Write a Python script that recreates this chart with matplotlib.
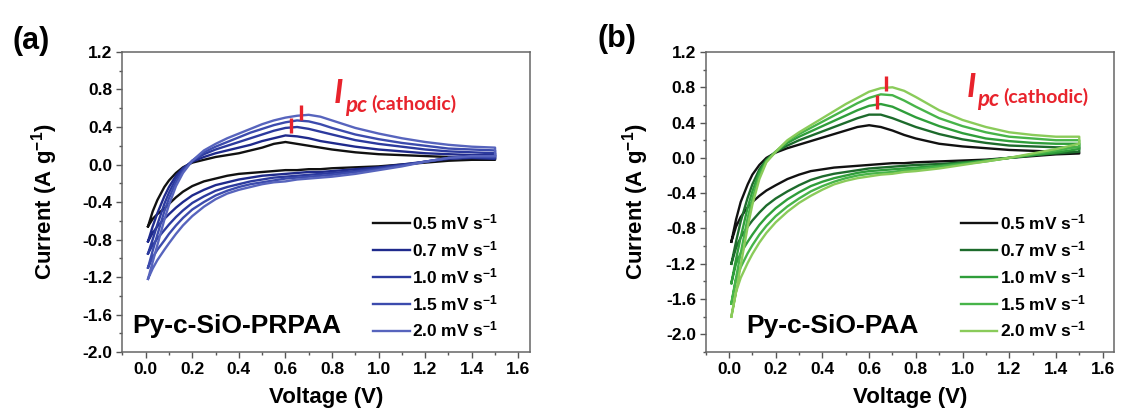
import matplotlib
matplotlib.use('Agg')
import matplotlib.pyplot as plt
from matplotlib.ticker import MultipleLocator, FormatStrFormatter

plt.rcParams['font.family'] = ['Liberation Sans', 'DejaVu Sans']
plt.rcParams['font.weight'] = 'bold'
plt.rcParams['axes.unicode_minus'] = False
plt.rcParams['mathtext.fontset'] = 'custom'
plt.rcParams['mathtext.rm'] = 'Liberation Sans:bold'
plt.rcParams['mathtext.it'] = 'Liberation Sans:italic:bold'
plt.rcParams['mathtext.bf'] = 'Liberation Sans:bold'

# ---------------- data ----------------
rates = ['0.5', '0.7', '1.0', '1.5', '2.0']
voltage = [0.01, 0.03, 0.05, 0.08, 0.10, 0.13, 0.16, 0.20, 0.25, 0.30, 0.35,
           0.40, 0.45, 0.50, 0.55, 0.60, 0.65, 0.70, 0.75, 0.80, 0.90, 1.00,
           1.10, 1.20, 1.30, 1.40, 1.50]

# Panel (a): Py-c-SiO-PRPAA  (anodic = upper branch, cathodic = lower branch)
a_up_05 = [-0.66, -0.50, -0.38, -0.24, -0.17, -0.09, -0.03, 0.02, 0.05, 0.08, 0.10,
           0.12, 0.15, 0.18, 0.22, 0.24, 0.22, 0.20, 0.18, 0.16, 0.13, 0.11,
           0.10, 0.09, 0.08, 0.07, 0.07]
a_dn_05 = [-0.66, -0.58, -0.53, -0.47, -0.42, -0.35, -0.29, -0.23, -0.18, -0.15, -0.12,
           -0.10, -0.09, -0.08, -0.07, -0.06, -0.06, -0.05, -0.05, -0.04, -0.03, -0.02,
           0.00, 0.02, 0.04, 0.05, 0.05]
a_up_07 = [-0.82, -0.66, -0.52, -0.34, -0.24, -0.12, -0.04, 0.03, 0.08, 0.12, 0.15,
           0.18, 0.21, 0.25, 0.28, 0.31, 0.30, 0.28, 0.25, 0.23, 0.19, 0.16,
           0.14, 0.12, 0.11, 0.10, 0.10]
a_dn_07 = [-0.82, -0.73, -0.66, -0.58, -0.53, -0.46, -0.40, -0.33, -0.27, -0.22, -0.19,
           -0.16, -0.14, -0.12, -0.11, -0.10, -0.09, -0.08, -0.08, -0.07, -0.05, -0.03,
           0.00, 0.03, 0.06, 0.07, 0.06]
a_up_10 = [-0.95, -0.80, -0.64, -0.42, -0.30, -0.15, -0.05, 0.04, 0.11, 0.16, 0.20,
           0.24, 0.28, 0.32, 0.36, 0.39, 0.40, 0.38, 0.35, 0.32, 0.26, 0.22,
           0.19, 0.16, 0.14, 0.13, 0.12]
a_dn_10 = [-0.95, -0.86, -0.79, -0.70, -0.64, -0.56, -0.49, -0.41, -0.34, -0.28, -0.24,
           -0.21, -0.18, -0.16, -0.14, -0.13, -0.12, -0.11, -0.10, -0.09, -0.07, -0.04,
           -0.01, 0.03, 0.07, 0.08, 0.07]
a_up_15 = [-1.10, -0.92, -0.75, -0.50, -0.36, -0.19, -0.07, 0.04, 0.13, 0.19, 0.24,
           0.29, 0.34, 0.38, 0.42, 0.45, 0.47, 0.46, 0.43, 0.39, 0.32, 0.27,
           0.23, 0.20, 0.17, 0.16, 0.15]
a_dn_15 = [-1.10, -0.99, -0.91, -0.81, -0.74, -0.65, -0.57, -0.48, -0.40, -0.33, -0.28,
           -0.24, -0.21, -0.19, -0.17, -0.15, -0.14, -0.13, -0.12, -0.11, -0.08, -0.05,
           -0.01, 0.03, 0.07, 0.08, 0.08]
a_up_20 = [-1.22, -1.04, -0.86, -0.59, -0.43, -0.23, -0.09, 0.04, 0.15, 0.22, 0.28,
           0.33, 0.38, 0.43, 0.47, 0.50, 0.52, 0.53, 0.51, 0.47, 0.39, 0.33,
           0.28, 0.24, 0.21, 0.19, 0.18]
a_dn_20 = [-1.22, -1.11, -1.02, -0.91, -0.84, -0.74, -0.65, -0.55, -0.45, -0.37, -0.31,
           -0.27, -0.24, -0.21, -0.19, -0.18, -0.16, -0.15, -0.14, -0.13, -0.10, -0.06,
           -0.02, 0.03, 0.07, 0.09, 0.09]

# Panel (b): Py-c-SiO-PAA
b_up_05 = [-0.95, -0.70, -0.50, -0.30, -0.19, -0.08, 0.00, 0.06, 0.11, 0.15, 0.19,
           0.23, 0.27, 0.31, 0.35, 0.37, 0.35, 0.31, 0.26, 0.22, 0.16, 0.13,
           0.11, 0.09, 0.08, 0.07, 0.06]
b_dn_05 = [-0.95, -0.78, -0.67, -0.56, -0.50, -0.43, -0.37, -0.31, -0.24, -0.19, -0.15,
           -0.13, -0.11, -0.10, -0.09, -0.08, -0.07, -0.06, -0.06, -0.05, -0.04, -0.03,
           -0.02, 0.00, 0.02, 0.04, 0.05]
b_up_07 = [-1.20, -0.95, -0.72, -0.45, -0.30, -0.13, -0.02, 0.07, 0.14, 0.20, 0.25,
           0.30, 0.35, 0.40, 0.45, 0.49, 0.49, 0.45, 0.40, 0.35, 0.27, 0.21,
           0.17, 0.14, 0.13, 0.12, 0.12]
b_dn_07 = [-1.20, -1.02, -0.90, -0.78, -0.71, -0.62, -0.54, -0.46, -0.38, -0.31, -0.25,
           -0.21, -0.18, -0.16, -0.14, -0.12, -0.11, -0.10, -0.09, -0.08, -0.07, -0.05,
           -0.03, 0.00, 0.03, 0.05, 0.07]
b_up_10 = [-1.42, -1.15, -0.90, -0.56, -0.38, -0.16, -0.03, 0.07, 0.17, 0.24, 0.30,
           0.36, 0.42, 0.48, 0.54, 0.59, 0.61, 0.58, 0.52, 0.46, 0.36, 0.28,
           0.22, 0.19, 0.17, 0.16, 0.16]
b_dn_10 = [-1.42, -1.20, -1.08, -0.95, -0.87, -0.76, -0.67, -0.57, -0.47, -0.39, -0.32,
           -0.27, -0.23, -0.20, -0.17, -0.15, -0.14, -0.13, -0.12, -0.11, -0.09, -0.06,
           -0.03, 0.00, 0.03, 0.06, 0.10]
b_up_15 = [-1.65, -1.36, -1.08, -0.68, -0.46, -0.20, -0.04, 0.07, 0.19, 0.27, 0.34,
           0.41, 0.48, 0.55, 0.62, 0.68, 0.72, 0.71, 0.65, 0.58, 0.45, 0.36,
           0.29, 0.24, 0.22, 0.20, 0.20]
b_dn_15 = [-1.65, -1.38, -1.24, -1.08, -0.99, -0.87, -0.77, -0.66, -0.55, -0.46, -0.38,
           -0.32, -0.27, -0.23, -0.20, -0.18, -0.17, -0.16, -0.14, -0.13, -0.10, -0.07,
           -0.04, 0.00, 0.04, 0.08, 0.13]
b_up_20 = [-1.80, -1.52, -1.22, -0.78, -0.53, -0.24, -0.05, 0.07, 0.20, 0.29, 0.37,
           0.45, 0.53, 0.61, 0.68, 0.75, 0.79, 0.80, 0.76, 0.69, 0.54, 0.43,
           0.35, 0.29, 0.26, 0.24, 0.24]
b_dn_20 = [-1.80, -1.52, -1.36, -1.19, -1.09, -0.96, -0.85, -0.73, -0.61, -0.51, -0.43,
           -0.36, -0.30, -0.26, -0.23, -0.21, -0.19, -0.18, -0.16, -0.15, -0.12, -0.08,
           -0.04, 0.00, 0.05, 0.10, 0.16]

# cathodic-peak markers (V, I_bottom, I_top)
a_mark_v = [0.622, 0.667]
a_mark_lo = [0.335, 0.477]
a_mark_hi = [0.496, 0.637]
b_mark_v = [0.633, 0.674]
b_mark_lo = [0.551, 0.763]
b_mark_hi = [0.714, 0.933]

a_colors = ['#111111', '#1f2a8c', '#2c3a9e', '#3c4bad', '#5764bd']
b_colors = ['#111111', '#1d6b2c', '#2f9e3a', '#47b449', '#8acb5a']
red = '#e8232c'

panels = [
    dict(ups=[a_up_05, a_up_07, a_up_10, a_up_15, a_up_20],
         dns=[a_dn_05, a_dn_07, a_dn_10, a_dn_15, a_dn_20],
         colors=a_colors, ylim=(-2.0, 1.2), name='Py-c-SiO-PRPAA', tag='(a)',
         mv=a_mark_v, mlo=a_mark_lo, mhi=a_mark_hi,
         rect=[0.1092, 0.1456, 0.3636, 0.7282], name_x=0.024, ipc_x=0.519,
         ipc_y=0.829, leg_x=0.615, ylab_x=-0.192, tag_xy=(0.011, 0.90)),
    dict(ups=[b_up_05, b_up_07, b_up_10, b_up_15, b_up_20],
         dns=[b_dn_05, b_dn_07, b_dn_10, b_dn_15, b_dn_20],
         colors=b_colors, ylim=(-2.2, 1.2), name='Py-c-SiO-PAA', tag='(b)',
         mv=b_mark_v, mlo=b_mark_lo, mhi=b_mark_hi,
         rect=[0.6295, 0.1456, 0.3645, 0.7282], name_x=0.099, ipc_x=0.638,
         ipc_y=0.851, leg_x=0.624, ylab_x=-0.171, tag_xy=(0.533, 0.905)),
]

fig = plt.figure(figsize=(11.21, 4.12), dpi=100)

for p in panels:
    ax = fig.add_axes(p['rect'])
    for r, up, dn, c in zip(rates, p['ups'], p['dns'], p['colors']):
        xs = voltage + voltage[::-1]
        ys = up + dn[::-1]
        ax.plot(xs, ys, color=c, lw=1.7, label=f'{r} mV s$^{{-1}}$',
                solid_joinstyle='round')
    for v, lo, hi in zip(p['mv'], p['mlo'], p['mhi']):
        ax.plot([v, v], [lo, hi], color=red, lw=2.4, solid_capstyle='butt')

    ax.set_xlim(-0.1, 1.65)
    ax.set_ylim(*p['ylim'])
    ax.xaxis.set_major_locator(MultipleLocator(0.2))
    ax.xaxis.set_minor_locator(MultipleLocator(0.1))
    ax.yaxis.set_major_locator(MultipleLocator(0.4))
    ax.yaxis.set_minor_locator(MultipleLocator(0.2))
    ax.xaxis.set_major_formatter(FormatStrFormatter('%.1f'))
    ax.yaxis.set_major_formatter(FormatStrFormatter('%.1f'))
    ax.set_xticks([0.0, 0.2, 0.4, 0.6, 0.8, 1.0, 1.2, 1.4, 1.6])
    ax.set_yticks([-2.0, -1.6, -1.2, -0.8, -0.4, 0.0, 0.4, 0.8, 1.2])
    ax.tick_params(which='major', direction='out', length=4, width=1.0,
                   color='#555555', labelsize=12.5, pad=3)
    ax.tick_params(which='minor', direction='out', length=2.5, width=1.0,
                   color='#555555')
    for s in ax.spines.values():
        s.set_color('#666666')
        s.set_linewidth(1.1)

    ax.set_xlabel('Voltage (V)', fontsize=16, fontweight='bold', va='center')
    ax.xaxis.set_label_coords(0.5, -0.153)
    ax.set_ylabel('Current (A g$^{-1}$)', fontsize=16, fontweight='bold',
                  va='center')
    ax.yaxis.set_label_coords(p['ylab_x'], 0.5)

    ax.text(p['name_x'], 0.063, p['name'], transform=ax.transAxes,
            fontsize=19, fontweight='bold', ha='left', va='baseline')

    t1 = ax.text(p['ipc_x'], p['ipc_y'], 'I', transform=ax.transAxes,
                 fontsize=24, fontstyle='italic', fontweight='bold', color=red,
                 family=['Lato', 'DejaVu Sans'], ha='left', va='baseline')
    t2 = ax.annotate('pc', xy=(1, 0), xycoords=t1, xytext=(1, -3),
                     textcoords='offset points', fontsize=16, fontstyle='italic',
                     fontweight='bold', color=red, family=['Lato', 'DejaVu Sans'],
                     ha='left', va='baseline')
    ax.annotate('(cathodic)', xy=(1, 0), xycoords=t2, xytext=(3, 2.5),
                textcoords='offset points', fontsize=14, fontweight='bold',
                color=red, family=['Lato', 'DejaVu Sans'], ha='left',
                va='bottom')

    ax.legend(loc='upper left', bbox_to_anchor=(p['leg_x'], 0.465),
              frameon=False, fontsize=12.5, handlelength=2.1,
              handletextpad=0.15, labelspacing=0.40, borderpad=0,
              borderaxespad=0)

    fig.text(p['tag_xy'][0], p['tag_xy'][1], p['tag'], fontsize=22,
             fontweight='bold', ha='left', va='center')

fig.savefig('out.png', dpi=100)
